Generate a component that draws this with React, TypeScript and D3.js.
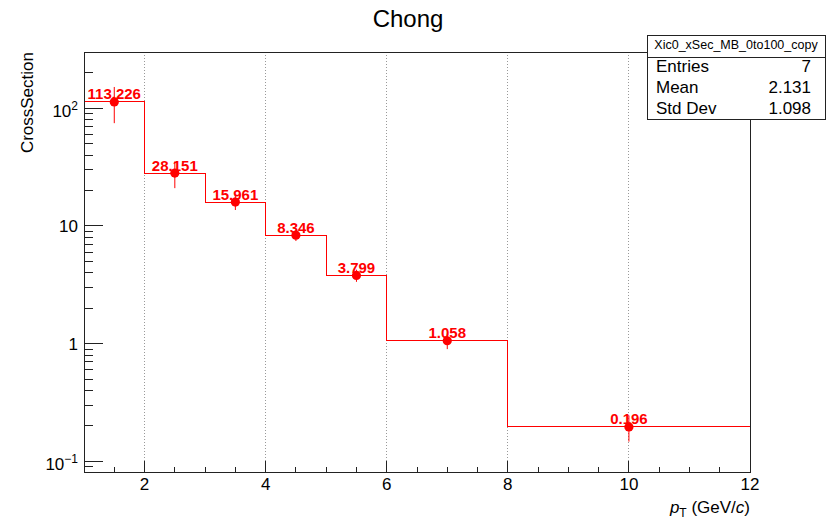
import React from "react";
import * as d3 from "d3";

// Histogram bins (pT edges) and per-bin cross sections with errors
const binEdges = [1, 2, 3, 4, 5, 6, 8, 12];
const crossSection = [113.226, 28.151, 15.961, 8.346, 3.799, 1.058, 0.196];
const crossSectionErr = [38.5, 7.2, 2.3, 0.9, 0.45, 0.16, 0.049];

const xTickMajor = [2, 4, 6, 8, 10, 12];
const yDecades = [0.1, 1, 10, 100];
const yDecadeLabels = [
  { base: "10", exp: "\u22121" },
  { base: "1", exp: "" },
  { base: "10", exp: "" },
  { base: "10", exp: "2" },
];

const statsTitle = "Xic0_xSec_MB_0to100_copy";
const statsNames = ["Entries", "Mean", "Std Dev"];
const statsValues = ["7", "2.131", "1.098"];

const W = 829;
const H = 523;
const frame = { left: 84, right: 750, top: 52, bottom: 472.5 };
const FONT = "'Liberation Sans', Arial, Helvetica, sans-serif";
const RED = "#ff0000";

export default function App() {
  const x = d3.scaleLinear().domain([1, 12]).range([frame.left, frame.right]);
  const y = d3
    .scaleLog()
    .domain([0.0803, 300.8])
    .range([frame.bottom, frame.top]);

  const [yLo, yHi] = y.domain();

  // minor x ticks every 0.5
  const xMinor = d3.range(1.5, 12, 0.5).filter((v) => !xTickMajor.includes(v));
  // minor y ticks 2..9 per decade
  const yMinor: number[] = [];
  for (const dcd of [0.01, 0.1, 1, 10, 100]) {
    for (let k = 2; k <= 9; k++) {
      const v = dcd * k;
      if (v > yLo && v < yHi - 1) yMinor.push(v);
    }
  }

  // step outline of the histogram
  const stepPts: [number, number][] = [];
  crossSection.forEach((v, i) => {
    stepPts.push([binEdges[i], v]);
    stepPts.push([binEdges[i + 1], v]);
  });
  const stepLine = d3
    .line<[number, number]>()
    .x((d) => x(d[0]))
    .y((d) => y(d[1]));

  const centers = crossSection.map((_, i) => (binEdges[i] + binEdges[i + 1]) / 2);

  return (
    <svg width={W} height={H} style={{ position: "absolute", left: 0, top: 0, background: "#fff" }}>
      <rect x={0} y={0} width={W} height={H} fill="#fff" />

      {/* title */}
      <text x={408} y={27} textAnchor="middle" fontFamily={FONT} fontSize={24} fill="#000">
        Chong
      </text>

      {/* vertical grid */}
      {xTickMajor
        .filter((v) => v < 12)
        .map((v) => (
          <line
            key={"g" + v}
            x1={x(v)}
            x2={x(v)}
            y1={frame.top}
            y2={frame.bottom}
            stroke="#999"
            strokeWidth={1}
            strokeDasharray="1,2"
            shapeRendering="crispEdges"
          />
        ))}

      {/* histogram step line */}
      <path d={stepLine(stepPts) || ""} fill="none" stroke={RED} strokeWidth={1} shapeRendering="crispEdges" />

      {/* error bars and markers */}
      {crossSection.map((v, i) => (
        <g key={"p" + i}>
          <line
            x1={x(centers[i])}
            x2={x(centers[i])}
            y1={y(v + crossSectionErr[i])}
            y2={y(v - crossSectionErr[i])}
            stroke={RED}
            strokeWidth={1}
          />
          <circle cx={x(centers[i])} cy={y(v)} r={4.6} fill={RED} />
        </g>
      ))}

      {/* value labels */}
      {crossSection.map((v, i) => (
        <text
          key={"l" + i}
          x={x(centers[i])}
          y={y(v) - 2.5}
          textAnchor="middle"
          fontFamily={FONT}
          fontWeight="bold"
          fontSize={15}
          fill={RED}
        >
          {v.toFixed(3)}
        </text>
      ))}

      {/* frame */}
      <rect
        x={frame.left}
        y={frame.top}
        width={frame.right - frame.left}
        height={frame.bottom - frame.top}
        fill="none"
        stroke="#222"
        strokeWidth={1}
        shapeRendering="crispEdges"
      />

      {/* x axis ticks */}
      {xTickMajor.map((v) => (
        <line key={"xt" + v} x1={x(v)} x2={x(v)} y1={frame.bottom} y2={frame.bottom - 12} stroke="#222" shapeRendering="crispEdges" />
      ))}
      {xMinor.map((v) => (
        <line key={"xm" + v} x1={x(v)} x2={x(v)} y1={frame.bottom} y2={frame.bottom - 6} stroke="#222" shapeRendering="crispEdges" />
      ))}
      {xTickMajor.map((v) => (
        <text key={"xl" + v} x={x(v)} y={490} textAnchor="middle" fontFamily={FONT} fontSize={17} fill="#000">
          {v}
        </text>
      ))}

      {/* x axis title */}
      <text x={frame.right} y={513} textAnchor="end" fontFamily={FONT} fontSize={17} fill="#000">
        <tspan fontStyle="italic">p</tspan>
        <tspan fontSize={12} dy={4}>T</tspan>
        <tspan dy={-4}> (GeV/</tspan>
        <tspan fontStyle="italic">c</tspan>
        <tspan>)</tspan>
      </text>

      {/* y axis ticks */}
      {yDecades.map((v) => (
        <line key={"yt" + v} x1={frame.left} x2={frame.left + 19} y1={y(v)} y2={y(v)} stroke="#222" shapeRendering="crispEdges" />
      ))}
      {yMinor.map((v) => (
        <line key={"ym" + v} x1={frame.left} x2={frame.left + 9} y1={y(v)} y2={y(v)} stroke="#222" shapeRendering="crispEdges" />
      ))}
      {yDecades.map((v, i) => {
        const lab = yDecadeLabels[i];
        return (
          <text
            key={"yl" + v}
            x={78}
            y={y(v) + (lab.exp ? 8.5 : 6)}
            textAnchor="end"
            fontFamily={FONT}
            fontSize={17}
            fill="#000"
          >
            {lab.base}
            {lab.exp ? (
              <tspan fontSize={12} dy={-7}>
                {lab.exp}
              </tspan>
            ) : null}
          </text>
        );
      })}

      {/* y axis title */}
      <text
        transform={`translate(33, ${frame.top}) rotate(-90)`}
        textAnchor="end"
        fontFamily={FONT}
        fontSize={17}
        fill="#000"
      >
        CrossSection
      </text>

      {/* statistics box */}
      <g>
        <rect x={647} y={35} width={178} height={84} fill="#fff" stroke="#222" strokeWidth={1} shapeRendering="crispEdges" />
        <line x1={647} x2={825} y1={57} y2={57} stroke="#222" shapeRendering="crispEdges" />
        <text x={736} y={49} textAnchor="middle" fontFamily={FONT} fontSize={12.5} fill="#000">
          {statsTitle}
        </text>
        {statsNames.map((n, i) => (
          <g key={"s" + i}>
            <text x={656} y={72 + i * 20.8} fontFamily={FONT} fontSize={17} fill="#000">
              {n}
            </text>
            <text x={811} y={72 + i * 20.8} textAnchor="end" fontFamily={FONT} fontSize={17} fill="#000">
              {statsValues[i]}
            </text>
          </g>
        ))}
      </g>
    </svg>
  );
}
